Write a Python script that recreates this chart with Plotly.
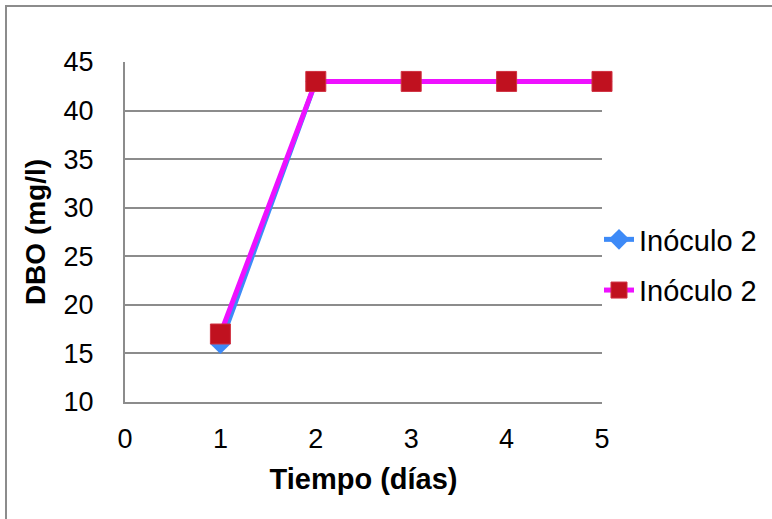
import plotly.graph_objects as go

dias = [1, 2, 3, 4, 5]
serie1 = [16, 43, 43, 43, 43]
serie2 = [17, 43, 43, 43, 43]
nombres = ["Inóculo 2", "Inóculo 2"]

W, H = 772, 519
L, T = 125, 62
R = W - 602
B = H - 402
pw = W - L - R
ph = H - T - B

def px_x(sx):
    return (sx - L) / pw

def px_y(sy):
    return (H - B - sy) / ph

fig = go.Figure()
fig.add_trace(go.Scatter(x=dias, y=serie1, name=nombres[0], mode="lines+markers",
                         line=dict(color="#3d8af7", width=5),
                         marker=dict(symbol="diamond", size=16, color="#3d8af7"),
                         legendgroup="a", cliponaxis=False))
fig.add_trace(go.Scatter(x=dias, y=serie2, name=nombres[1], mode="lines+markers",
                         line=dict(color="#ee11ff", width=5),
                         marker=dict(symbol="square", size=20, color="#c0111f",
                                     line=dict(color="#d03040", width=1)),
                         legendgroup="b", cliponaxis=False))

fig.update_layout(
    width=W, height=H,
    margin=dict(l=L, r=R, t=T, b=B, autoexpand=False),
    paper_bgcolor="white", plot_bgcolor="white",
    font=dict(family="Liberation Sans, Arial", color="black", size=27),
    xaxis=dict(range=[0, 5], dtick=1, showgrid=False, showline=True,
               linecolor="#8c8c8c", linewidth=2, zeroline=False,
               ticks="", tickfont=dict(size=27), ticklabelstandoff=12,
               title=dict(text="<b>Tiempo (días)</b>", font=dict(size=29), standoff=15)),
    yaxis=dict(range=[10, 45], dtick=5, showgrid=True, gridcolor="#8c8c8c",
               gridwidth=1.5, showline=True, linecolor="#8c8c8c", linewidth=2,
               zeroline=False, ticks="", tickfont=dict(size=27), ticklabelstandoff=24,
               title=dict(text="<b>DBO (mg/l)</b>", font=dict(size=28), standoff=10)),
    legend=dict(x=px_x(599), y=px_y(265), xanchor="left", yanchor="middle",
                font=dict(size=29), tracegroupgap=10, bgcolor="rgba(0,0,0,0)"),
    shapes=[dict(type="rect", xref="paper", yref="paper",
                 x0=px_x(6), x1=2.0, y0=-1.0, y1=px_y(6),
                 line=dict(color="#8c8c8c", width=2), layer="below")],
)

fig.write_html("out.html", config={"displayModeBar": False},
               post_script="document.body.style.margin='0';")
